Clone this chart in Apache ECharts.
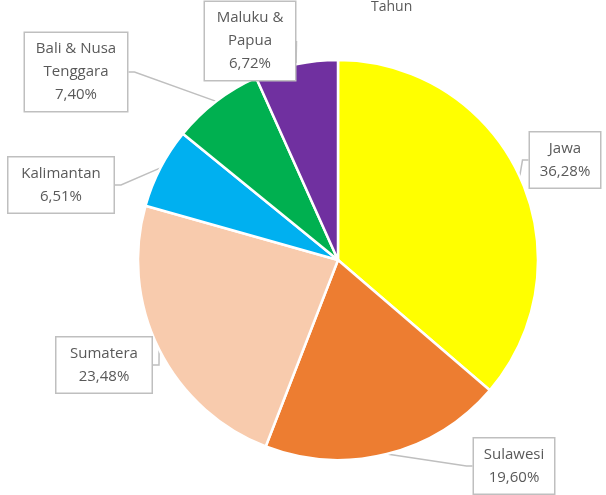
<!DOCTYPE html>
<html>
<head>
<meta charset="utf-8">
<script src="https://cdn.jsdelivr.net/npm/echarts@6/dist/echarts.min.js"></script>
<style>
  html, body { margin: 0; padding: 0; background: #fff; }
  #chart { width: 606px; height: 495px; }
</style>
</head>
<body>
<div id="chart"></div>
<script>
const regions = ['Jawa', 'Sulawesi', 'Sumatera', 'Kalimantan', 'Bali & Nusa\nTenggara', 'Maluku &\nPapua'];
const shares = [36.28, 19.60, 23.48, 6.51, 7.40, 6.72];
const colors = ['#FFFF00', '#ED7D31', '#F8CBAD', '#00B0F0', '#00B050', '#7030A0'];

// callout boxes: centre and inner width, same order as regions
const labelSpots = [[565, 160], [514, 466], [104, 365], [61, 185], [76, 72], [250, 41]];
const boxWidths = [62, 72, 87, 97, 94, 82];

const chart = echarts.init(document.getElementById('chart'));

chart.setOption({
    backgroundColor: '#fff',
    animation: false,
    title: {
        text: 'Tahun',
        left: 366,
        top: -5,
        textStyle: { color: '#595959', fontSize: 14, fontWeight: 'normal', fontFamily: 'Open Sans' }
    },
    series: [{
        type: 'pie',
        center: [338, 260],
        radius: ['0%', 200],
        startAngle: 90,
        clockwise: true,
        data: regions.map((n, i) => ({
            name: n,
            value: shares[i],
            itemStyle: { color: colors[i] },
            label: { width: boxWidths[i] }
        })),
        itemStyle: { borderColor: '#fff', borderWidth: 2.5 },
        label: {
            show: true,
            overflow: 'none',
            formatter: p => p.name + '\n' + p.value.toFixed(2).replace('.', ',') + '%',
            color: '#595959',
            fontFamily: 'Open Sans',
            fontSize: 15,
            lineHeight: 23,
            align: 'center',
            backgroundColor: '#fff',
            borderColor: '#BFBFBF',
            borderWidth: 1.5,
            padding: [5, 4, 4, 4]
        },
        labelLine: {
            show: true,
            length: 12,
            length2: 6,
            lineStyle: { color: '#BFBFBF', width: 1.5 }
        },
        labelLayout: p => ({
            x: labelSpots[p.dataIndex][0],
            y: labelSpots[p.dataIndex][1],
            align: 'center',
            verticalAlign: 'middle'
        })
    }]
});
</script>
</body>
</html>
